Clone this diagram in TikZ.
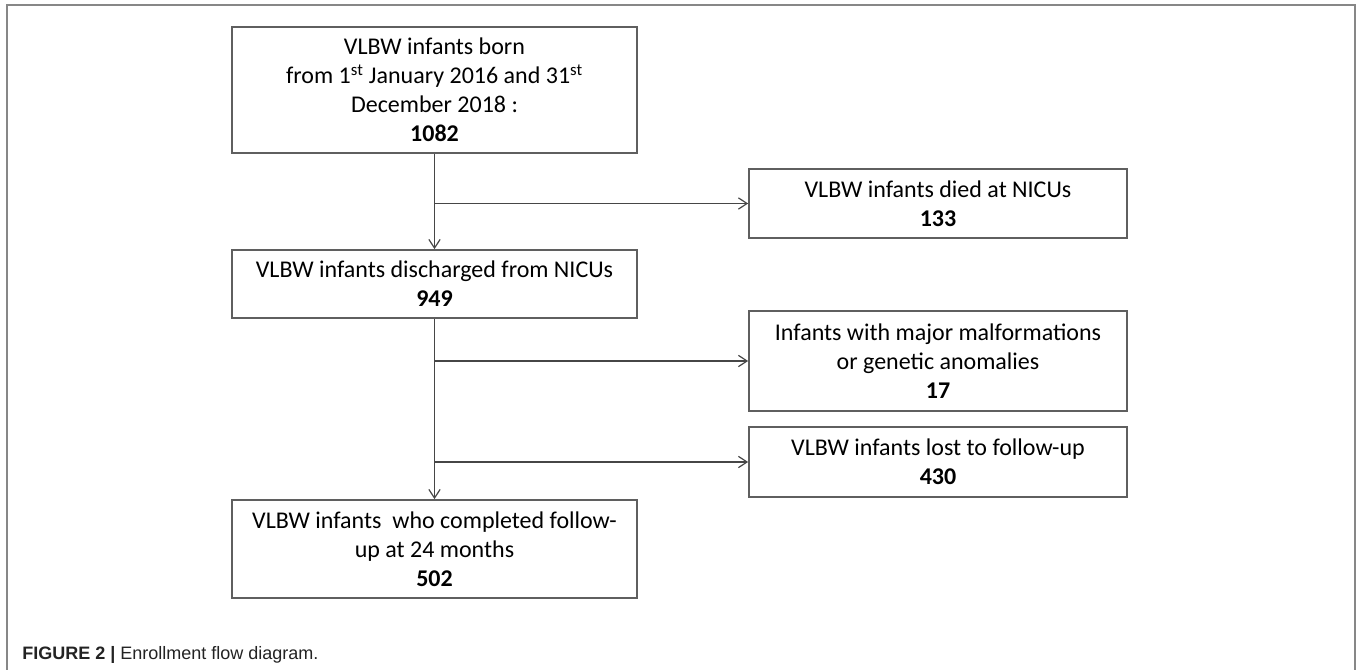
\documentclass[tikz,border=0pt]{standalone}
\usepackage{fontspec}
\setmainfont{Carlito}
\newfontfamily\capfont{Liberation Sans}
\usetikzlibrary{arrows.meta}
\definecolor{boxgray}{RGB}{95,95,95}
\definecolor{linegray}{RGB}{70,70,70}
\definecolor{framegray}{RGB}{135,135,135}
\definecolor{captext}{RGB}{35,35,35}
\begin{document}
\begin{tikzpicture}[x=0.75pt,y=-0.75pt,
  box/.style={draw=boxgray, line width=1.3pt, fill=white, inner sep=0pt, align=center,
    font=\fontsize{18}{21.75}\selectfont, text=black},
  link/.style={draw=linegray, line width=1.1pt, -{Straight Barb[length=6.5pt,width=8.5pt,line width=0.9pt]}},
  framestyle/.style={draw=framegray, line width=1.5pt}]
\useasboundingbox (0,0) rectangle (1357,670);
\coordinate (fbl) at (7,670);
\coordinate (ftl) at (7,5);
\coordinate (ftr) at (1355,5);
\coordinate (fbr) at (1355,670);
\draw[framestyle] (fbl) -- (ftl) -- (ftr) -- (fbr);

\node[box, minimum width=303.75pt, minimum height=94.5pt] (b1) at (434.5,90)
  {VLBW infants born\\from 1\textsuperscript{st} January 2016 and 31\textsuperscript{st}\\December 2018 :\\\textbf{1082}};
\node[box, minimum width=303.75pt, minimum height=51pt] (b2) at (434.5,284)
  {VLBW infants discharged from NICUs\\\textbf{949}};
\node[box, minimum width=303.75pt, minimum height=73.5pt] (b3) at (434.5,549)
  {VLBW infants~ who completed follow-\\up at 24 months\\\textbf{502}};

\node[box, minimum width=283.5pt, minimum height=51.75pt] (d1) at (938,203.5)
  {VLBW infants died at NICUs\\\textbf{133}};
\node[box, minimum width=283.5pt, minimum height=75pt] (d2) at (938,361)
  {Infants with major malformations\\or genetic anomalies\\\textbf{17}};
\node[box, minimum width=283.5pt, minimum height=52.5pt] (d3) at (938,462)
  {VLBW infants lost to follow-up\\\textbf{430}};

\draw[link] (b1.south) -- (b2.north);
\draw[link] (b2.south) -- (b3.north);
\coordinate (j1) at (b1.south |- d1.west);
\coordinate (j2) at (b2.south |- d2.west);
\coordinate (j3) at (b2.south |- d3.west);
\draw[link] (j1) -- (d1.west);
\draw[link] (j2) -- (d2.west);
\draw[link] (j3) -- (d3.west);

\node[anchor=base west, inner sep=0pt, text=captext,
  font=\capfont\fontsize{13.5}{16}\selectfont] (cap) at (22,659)
  {\textbf{FIGURE 2 |} Enrollment flow diagram.};
\end{tikzpicture}
\end{document}
